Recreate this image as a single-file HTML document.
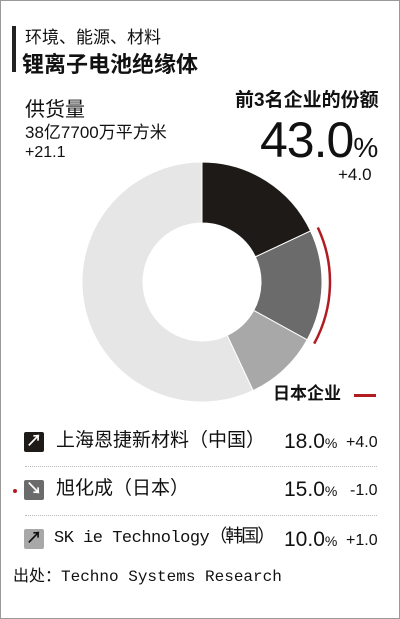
<!DOCTYPE html>
<html><head><meta charset="utf-8"><style>
body{margin:0;width:400px;height:619px;overflow:hidden;background:#fff;font-family:"Liberation Sans","Noto Sans CJK SC",sans-serif;color:#111}
#f{position:absolute;left:0;top:0;width:398px;height:617px;border:1px solid #999}
.t{position:absolute;white-space:nowrap;line-height:1.1}
.ic{position:absolute;width:20px;height:20px;border-radius:2px;color:#fff;font-size:16px;line-height:20px;text-align:center;font-weight:bold}
.sep{position:absolute;left:25px;width:352px;border-top:1px dotted #bbb}
</style></head><body>
<div id="f"></div>
<div class="t" style="left:12px;top:26px;width:4px;height:46px;background:#222"></div>
<div class="t" style="left:25px;top:29px;font-size:17px">环境、能源、材料</div>
<div class="t" style="left:22px;top:53px;font-size:22px;font-weight:bold">锂离子电池绝缘体</div>
<div class="t" style="left:25px;top:99px;font-size:20px">供货量</div>
<div class="t" style="left:25px;top:124px;font-size:17px">38亿7700万平方米</div>
<div class="t" style="left:25px;top:144px;font-size:16px">+21.1</div>
<div class="t" style="left:235px;top:91px;font-size:19px;font-weight:bold">前3名企业的份额</div>
<div class="t" style="left:260px;top:113px;font-size:50px;letter-spacing:-1px">43.0<span style="font-size:28px">%</span></div>
<div class="t" style="left:338px;top:166px;font-size:17px">+4.0</div>
<svg id="c" class="t" style="left:0;top:0" width="400" height="619"></svg>
<div class="t" style="left:273px;top:385px;font-size:17px;font-weight:bold">日本企业</div>
<div class="t" style="left:354px;top:394px;width:22px;height:3px;background:#b01c22"></div>

<div class="ic" style="left:24px;top:432px;background:#1e1a17">↗</div>
<div class="t" style="left:56px;top:431px;font-size:19px">上海恩捷新材料（中国）</div>
<div class="t" style="left:284px;top:430px;font-size:21px">18.0<span style="font-size:14px">%</span></div>
<div class="t" style="left:346px;top:434px;font-size:16px">+4.0</div>
<div class="sep" style="top:466px"></div>
<div class="t" style="left:13px;top:489px;width:4px;height:4px;border-radius:2px;background:#b01c22"></div>
<div class="ic" style="left:24px;top:480px;background:#6b6b6b">↘</div>
<div class="t" style="left:56px;top:479px;font-size:19px">旭化成（日本）</div>
<div class="t" style="left:284px;top:478px;font-size:21px">15.0<span style="font-size:14px">%</span></div>
<div class="t" style="left:350px;top:482px;font-size:16px">-1.0</div>
<div class="sep" style="top:515px"></div>
<div class="ic" style="left:24px;top:529px;background:#a8a8a8;color:#111">↗</div>
<div class="t" style="left:54px;top:529px;font-size:17px;font-family:'Liberation Mono','Noto Sans CJK SC',monospace;letter-spacing:-0.5px">SK ie Technology<span style="font-size:18px;letter-spacing:-2px">（韩国）</span></div>
<div class="t" style="left:284px;top:528px;font-size:21px">10.0<span style="font-size:14px">%</span></div>
<div class="t" style="left:346px;top:532px;font-size:16px">+1.0</div>
<div class="t" style="left:13px;top:569px;font-size:16px;font-family:'Liberation Mono','Noto Sans CJK SC',monospace">出处：Techno Systems Research</div>
<script>
const companies=["上海恩捷新材料","旭化成","SK ie Technology","其他"];
const shares=[18.0,15.0,10.0,57.0];
const colors=["#1e1a17","#6b6b6b","#a8a8a8","#e6e6e6"];
const japanIndex=[1];
const svg=document.getElementById('c');const NS="http://www.w3.org/2000/svg";
const cx=202,cy=282,R=120,r=59;
const total=shares.reduce((a,b)=>a+b,0);
function ang(v){return v/total*2*Math.PI-Math.PI/2}
function pt(a,rad){return [cx+rad*Math.cos(a),cy+rad*Math.sin(a)]}
let acc=0;
shares.forEach((v,i)=>{const a0=ang(acc),a1=ang(acc+v);acc+=v;
const lg=(a1-a0)>Math.PI?1:0;const p0=pt(a0,R),p1=pt(a1,R),q1=pt(a1,r),q0=pt(a0,r);
const p=document.createElementNS(NS,'path');
p.setAttribute('d',`M${p0}L${p0}A${R},${R} 0 ${lg} 1 ${p1}L${q1}A${r},${r} 0 ${lg} 0 ${q0}Z`);
p.setAttribute('fill',colors[i]);p.setAttribute('stroke','#fff');p.setAttribute('stroke-width','1');


svg.appendChild(p);});
japanIndex.forEach(j=>{let s=0;for(let k=0;k<j;k++)s+=shares[k];
const a0=ang(s),a1=ang(s+shares[j]);const RR=128;const p0=pt(a0,RR),p1=pt(a1,RR);
const a=document.createElementNS(NS,'path');
a.setAttribute('d',`M${p0}A${RR},${RR} 0 0 1 ${p1}`);a.setAttribute('fill','none');a.setAttribute('stroke','#b01c22');a.setAttribute('stroke-width','2.5');


svg.appendChild(a);});
</script>
</body></html>
